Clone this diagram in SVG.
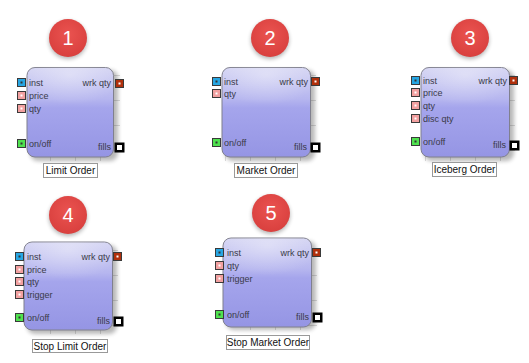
<svg xmlns="http://www.w3.org/2000/svg" width="529" height="363" viewBox="0 0 529 363">
<defs>
<linearGradient id="body" x1="0" y1="0" x2="0" y2="1">
<stop offset="0" stop-color="#d4d4f3"/>
<stop offset="0.35" stop-color="#b6b6ef"/>
<stop offset="0.45" stop-color="#a5a5ec"/>
<stop offset="1" stop-color="#9595e4"/>
</linearGradient>
<radialGradient id="gloss" cx="0.5" cy="0.15" r="0.6">
<stop offset="0" stop-color="#ffffff" stop-opacity="0.35"/>
<stop offset="1" stop-color="#ffffff" stop-opacity="0"/>
</radialGradient>
<radialGradient id="ball" cx="0.5" cy="0.4" r="0.6">
<stop offset="0" stop-color="#ea5350"/>
<stop offset="1" stop-color="#d9403e"/>
</radialGradient>
<filter id="sh" x="-20%" y="-20%" width="150%" height="150%">
<feGaussianBlur stdDeviation="2"/>
</filter>
<pattern id="grid" width="25" height="25" patternUnits="userSpaceOnUse">
<path d="M0 0.5H25M0.5 0V25" fill="none" stroke="#dcdcdc" stroke-width="1"/>
</pattern>
</defs>
<style>
.lbl{font-family:"Liberation Sans",Arial,sans-serif;font-size:9px;fill:#3a3a48}
.cap{font-family:"Liberation Sans",Arial,sans-serif;font-size:10px;fill:#111}
.num{font-family:"Liberation Sans",Arial,sans-serif;font-size:20px;fill:#fff;text-anchor:middle}
.box{fill:url(#body);stroke:#80808e;stroke-width:1}
.gl{fill:url(#gloss)}
.shd{fill:#000;opacity:0.28;filter:url(#sh)}
.grd{fill:url(#grid)}
.capbox{fill:#fff;stroke:#999;stroke-width:1}
.pb{stroke:#3a3a3a;stroke-width:1}
.blue{fill:#27a6e3}
.pink{fill:#f2a0a0}
.green{fill:#4fe24f}
.red{fill:#b0300c}
.dot{fill:#fff}
.ddot{fill:#333}
.ballshd{fill:#000;opacity:0.3;filter:url(#sh)}
.ballc{fill:url(#ball)}
</style>

<g id="node1">
<circle class="ballshd" cx="68" cy="40" r="19"/>
<circle class="ballc" cx="68" cy="38" r="19"/>
<text class="num" x="68" y="45">1</text>
<rect class="grd" x="30" y="70" width="90" height="91"/>
<rect class="shd" x="30" y="70" width="88" height="91" rx="8"/>
<rect class="box" x="27" y="67.5" width="86.5" height="89.5" rx="8"/>
<rect class="gl" x="27" y="67.5" width="86.5" height="50" rx="8"/>
<rect class="pb blue" x="17.5" y="78.5" width="8" height="8"/><rect class="ddot" x="20.5" y="81.5" width="2" height="2"/>
<text class="lbl" x="29" y="86">inst</text>
<rect class="pb pink" x="17.5" y="91.5" width="8" height="8"/><rect class="dot" x="20.5" y="94.5" width="2" height="2"/>
<text class="lbl" x="29" y="99">price</text>
<rect class="pb pink" x="17.5" y="104.5" width="8" height="8"/><rect class="dot" x="20.5" y="107.5" width="2" height="2"/>
<text class="lbl" x="29" y="112">qty</text>
<rect class="pb green" x="17.5" y="139.5" width="8" height="8"/><rect class="ddot" x="20.5" y="142.5" width="2" height="2"/>
<text class="lbl" x="29" y="147">on/off</text>
<rect class="pb red" x="115.5" y="79.5" width="8" height="8"/><rect class="dot" x="118.5" y="82.5" width="2" height="2"/>
<text class="lbl" x="111" y="86" text-anchor="end">wrk qty</text>
<rect x="114.5" y="142.5" width="10" height="10" fill="#000"/><rect x="116.5" y="144.5" width="6" height="6" fill="#fff" stroke="#000" stroke-width="1"/>
<text class="lbl" x="111" y="150" text-anchor="end">fills</text>
<rect class="capbox" x="43.5" y="163.5" width="54" height="14"/>
<text class="cap" x="70.5" y="174" text-anchor="middle">Limit Order</text>
</g>

<g id="node2">
<circle class="ballshd" cx="270" cy="40" r="19"/>
<circle class="ballc" cx="270" cy="38" r="19"/>
<text class="num" x="270" y="45">2</text>
<rect class="grd" x="225" y="70" width="91" height="91"/>
<rect class="shd" x="225" y="70" width="90" height="91" rx="8"/>
<rect class="box" x="222" y="67.5" width="88.5" height="89.5" rx="8"/>
<rect class="gl" x="222" y="67.5" width="88.5" height="50" rx="8"/>
<rect class="pb blue" x="212.5" y="77.5" width="8" height="8"/><rect class="ddot" x="215.5" y="80.5" width="2" height="2"/>
<text class="lbl" x="224" y="85">inst</text>
<rect class="pb pink" x="212.5" y="89.5" width="8" height="8"/><rect class="dot" x="215.5" y="92.5" width="2" height="2"/>
<text class="lbl" x="224" y="97">qty</text>
<rect class="pb green" x="212.5" y="138.5" width="8" height="8"/><rect class="ddot" x="215.5" y="141.5" width="2" height="2"/>
<text class="lbl" x="224" y="146">on/off</text>
<rect class="pb red" x="311.5" y="77.5" width="8" height="8"/><rect class="dot" x="314.5" y="80.5" width="2" height="2"/>
<text class="lbl" x="308" y="85" text-anchor="end">wrk qty</text>
<rect x="310.5" y="142.5" width="10" height="10" fill="#000"/><rect x="312.5" y="144.5" width="6" height="6" fill="#fff" stroke="#000" stroke-width="1"/>
<text class="lbl" x="307" y="150" text-anchor="end">fills</text>
<rect class="capbox" x="234.5" y="163.5" width="63" height="14"/>
<text class="cap" x="266" y="174" text-anchor="middle">Market Order</text>
</g>

<g id="node3">
<circle class="ballshd" cx="470" cy="40" r="19"/>
<circle class="ballc" cx="470" cy="38" r="19"/>
<text class="num" x="470" y="45">3</text>
<rect class="grd" x="424" y="70" width="91" height="91"/>
<rect class="shd" x="424" y="70" width="90" height="91" rx="8"/>
<rect class="box" x="421" y="67.5" width="88.5" height="89.5" rx="8"/>
<rect class="gl" x="421" y="67.5" width="88.5" height="50" rx="8"/>
<rect class="pb blue" x="411.5" y="76.5" width="8" height="8"/><rect class="ddot" x="414.5" y="79.5" width="2" height="2"/>
<text class="lbl" x="423" y="84">inst</text>
<rect class="pb pink" x="411.5" y="88.5" width="8" height="8"/><rect class="dot" x="414.5" y="91.5" width="2" height="2"/>
<text class="lbl" x="423" y="96">price</text>
<rect class="pb pink" x="411.5" y="101.5" width="8" height="8"/><rect class="dot" x="414.5" y="104.5" width="2" height="2"/>
<text class="lbl" x="423" y="109">qty</text>
<rect class="pb pink" x="411.5" y="114.5" width="8" height="8"/><rect class="dot" x="414.5" y="117.5" width="2" height="2"/>
<text class="lbl" x="423" y="122">disc qty</text>
<rect class="pb green" x="411.5" y="137.5" width="8" height="8"/><rect class="ddot" x="414.5" y="140.5" width="2" height="2"/>
<text class="lbl" x="423" y="145">on/off</text>
<rect class="pb red" x="509.5" y="76.5" width="8" height="8"/><rect class="dot" x="512.5" y="79.5" width="2" height="2"/>
<text class="lbl" x="507" y="84" text-anchor="end">wrk qty</text>
<rect x="509.5" y="140.5" width="10" height="10" fill="#000"/><rect x="511.5" y="142.5" width="6" height="6" fill="#fff" stroke="#000" stroke-width="1"/>
<text class="lbl" x="506" y="148" text-anchor="end">fills</text>
<rect class="capbox" x="432.5" y="162.5" width="64" height="14"/>
<text class="cap" x="464.5" y="173" text-anchor="middle">Iceberg Order</text>
</g>

<g id="node4">
<circle class="ballshd" cx="68" cy="217" r="19"/>
<circle class="ballc" cx="68" cy="215" r="19"/>
<text class="num" x="68" y="222">4</text>
<rect class="grd" x="27" y="245" width="91" height="89"/>
<rect class="shd" x="27" y="245" width="90" height="89" rx="8"/>
<rect class="box" x="24" y="242" width="88.5" height="88" rx="8"/>
<rect class="gl" x="24" y="242" width="88.5" height="50" rx="8"/>
<rect class="pb blue" x="15.5" y="252.5" width="8" height="8"/><rect class="ddot" x="18.5" y="255.5" width="2" height="2"/>
<text class="lbl" x="27" y="260">inst</text>
<rect class="pb pink" x="15.5" y="265.5" width="8" height="8"/><rect class="dot" x="18.5" y="268.5" width="2" height="2"/>
<text class="lbl" x="27" y="273">price</text>
<rect class="pb pink" x="15.5" y="277.5" width="8" height="8"/><rect class="dot" x="18.5" y="280.5" width="2" height="2"/>
<text class="lbl" x="27" y="285">qty</text>
<rect class="pb pink" x="15.5" y="290.5" width="8" height="8"/><rect class="dot" x="18.5" y="293.5" width="2" height="2"/>
<text class="lbl" x="27" y="298">trigger</text>
<rect class="pb green" x="15.5" y="313.5" width="8" height="8"/><rect class="ddot" x="18.5" y="316.5" width="2" height="2"/>
<text class="lbl" x="27" y="321">on/off</text>
<rect class="pb red" x="113.5" y="252.5" width="8" height="8"/><rect class="dot" x="116.5" y="255.5" width="2" height="2"/>
<text class="lbl" x="110" y="260" text-anchor="end">wrk qty</text>
<rect x="113.5" y="316.5" width="10" height="10" fill="#000"/><rect x="115.5" y="318.5" width="6" height="6" fill="#fff" stroke="#000" stroke-width="1"/>
<text class="lbl" x="110" y="324" text-anchor="end">fills</text>
<rect class="capbox" x="32.5" y="339.5" width="75" height="13"/>
<text class="cap" x="70" y="350" text-anchor="middle">Stop Limit Order</text>
</g>

<g id="node5">
<circle class="ballshd" cx="271" cy="215" r="19"/>
<circle class="ballc" cx="271" cy="213" r="19"/>
<text class="num" x="271" y="220">5</text>
<rect class="grd" x="226" y="241" width="91" height="89"/>
<rect class="shd" x="226" y="241" width="90" height="89" rx="8"/>
<rect class="box" x="223" y="238" width="88.5" height="89" rx="8"/>
<rect class="gl" x="223" y="238" width="88.5" height="50" rx="8"/>
<rect class="pb blue" x="215.5" y="248.5" width="8" height="8"/><rect class="ddot" x="218.5" y="251.5" width="2" height="2"/>
<text class="lbl" x="227" y="256">inst</text>
<rect class="pb pink" x="215.5" y="261.5" width="8" height="8"/><rect class="dot" x="218.5" y="264.5" width="2" height="2"/>
<text class="lbl" x="227" y="269">qty</text>
<rect class="pb pink" x="215.5" y="274.5" width="8" height="8"/><rect class="dot" x="218.5" y="277.5" width="2" height="2"/>
<text class="lbl" x="227" y="282">trigger</text>
<rect class="pb green" x="215.5" y="310.5" width="8" height="8"/><rect class="ddot" x="218.5" y="313.5" width="2" height="2"/>
<text class="lbl" x="227" y="318">on/off</text>
<rect class="pb red" x="312.5" y="248.5" width="8" height="8"/><rect class="dot" x="315.5" y="251.5" width="2" height="2"/>
<text class="lbl" x="309" y="256" text-anchor="end">wrk qty</text>
<rect x="312.5" y="312.5" width="10" height="10" fill="#000"/><rect x="314.5" y="314.5" width="6" height="6" fill="#fff" stroke="#000" stroke-width="1"/>
<text class="lbl" x="309" y="320" text-anchor="end">fills</text>
<rect class="capbox" x="226.5" y="335.5" width="83" height="14"/>
<text class="cap" x="268" y="346" text-anchor="middle">Stop Market Order</text>
</g>

<g id="connectors"/>
</svg>
